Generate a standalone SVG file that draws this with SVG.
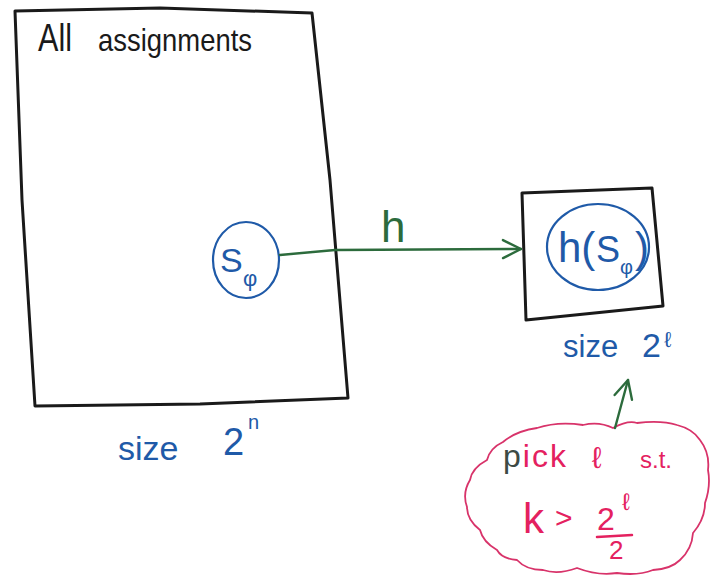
<svg xmlns="http://www.w3.org/2000/svg" width="712" height="578" viewBox="0 0 712 578">
<style>
  .box{fill:none;stroke:#1a1a1a;stroke-width:3;stroke-linejoin:round;stroke-linecap:round}
  .bl{fill:none;stroke:#1f5aa8;stroke-width:2.2}
  .conn{fill:none;stroke:#2c6b3c;stroke-width:2.4;stroke-linecap:round}
  .cloud{fill:none;stroke:#d8336a;stroke-width:1.8}
  .t{font-family:"Liberation Sans","DejaVu Sans",sans-serif}
  .blk{fill:#1a1a1a}
  .blue{fill:#1f5aa8}
  .grn{fill:#2c6b3c}
  .pink{fill:#e4215f}
</style>
<defs>
  <marker id="chev" viewBox="0 0 24 24" refX="21" refY="12" markerWidth="24" markerHeight="24" markerUnits="userSpaceOnUse" orient="auto">
    <path d="M3,3 L21,12 L3,21" fill="none" stroke="#2c6b3c" stroke-width="2.4" stroke-linecap="round" stroke-linejoin="round"/>
  </marker>
</defs>
<rect width="712" height="578" fill="#ffffff"/>

<g id="all-assignments">
  <path class="box" d="M15,11 L160,8 L312,13 L330,180 L348,398 L200,404 L35,406 L22,200 Z"/>
  <text class="t blk" x="38" y="51" font-size="38" textLength="34" lengthAdjust="spacingAndGlyphs">All</text>
  <text class="t blk" x="98" y="51" font-size="32" textLength="154" lengthAdjust="spacingAndGlyphs">assignments</text>
  <text class="t blue" x="118" y="460" font-size="34">size</text>
  <text class="t blue" x="223" y="455" font-size="38">2</text>
  <text class="t blue" x="248" y="429" font-size="20">n</text>
</g>

<g id="s-phi">
  <ellipse class="bl" cx="246" cy="260" rx="33" ry="38"/>
  <text class="t blue" x="220" y="272" font-size="34">S</text>
  <text class="t blue" x="243" y="286" font-size="22">φ</text>
</g>

<g id="range">
  <path class="box" d="M522,193 L652,188 L663,306 L526,320 Z"/>
  <text class="t blue" x="563" y="357" font-size="31">size</text>
  <text class="t blue" x="642" y="357" font-size="34">2</text>
  <text class="t blue" x="664" y="347" font-size="22">ℓ</text>
</g>

<g id="h-s-phi">
  <ellipse class="bl" cx="598" cy="247" rx="51" ry="43"/>
  <text class="t blue" x="558" y="262" font-size="42">h(</text>
  <text class="t blue" x="596" y="262" font-size="36">S</text>
  <text class="t blue" x="620" y="274" font-size="20">φ</text>
  <text class="t blue" x="635" y="262" font-size="42">)</text>
</g>

<g id="pick-l">
  <path class="cloud" d="M503,442 Q516,431 537,428 Q558,421 583,425 Q599,421 613,428 Q628,420 637,423 Q661,420 677,425 Q693,429 700,440 Q710,453 708,470 Q711,486 705,503 Q705,519 693,533 Q692,549 680,560 Q671,569 653,570 Q638,576 617,573 Q598,576 577,568 Q558,575 543,570 Q526,570 517,560 Q502,559 497,550 Q483,542 480,530 Q467,520 467,507 Q462,493 470,480 Q472,468 487,460 Q490,448 503,442 Z"/>
  <text class="t pink" x="503" y="467" font-size="32" letter-spacing="2"><tspan fill="#3d4a44">p</tspan>ick</text>
  <text class="t pink" x="592" y="468" font-size="30">ℓ</text>
  <text class="t pink" x="640" y="468" font-size="24">s.t.</text>
  <text class="t pink" x="523" y="533" font-size="42">k</text>
  <text class="t pink" x="555" y="528" font-size="30">&gt;</text>
  <text class="t pink" x="597" y="530" font-size="32">2</text>
  <text class="t pink" x="622" y="510" font-size="24">ℓ</text>
  <path d="M597,537 L632,535" fill="none" stroke="#e4215f" stroke-width="2.5" stroke-linecap="round"/>
  <text class="t pink" x="609" y="559" font-size="26">2</text>
</g>

<g id="connectors">
  <path class="conn" d="M280,255 L335,250 L521,249" marker-end="url(#chev)"/>
  <text class="t grn" x="381" y="242" font-size="44">h</text>
  <path class="conn" d="M615,428 L628,380" marker-end="url(#chev)"/>
</g>
</svg>
